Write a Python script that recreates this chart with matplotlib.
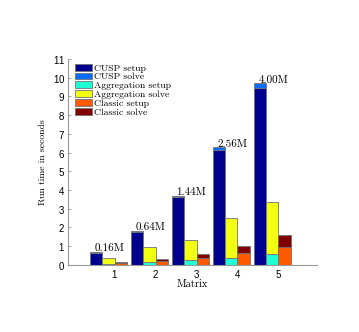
import numpy as np
import matplotlib
matplotlib.use('Agg')
import matplotlib.pyplot as plt

plt.rcParams['axes.formatter.use_mathtext'] = True

matrices = [1, 2, 3, 4, 5]
sizes = ['0.16M', '0.64M', '1.44M', '2.56M', '4.00M']

# run times in seconds
cusp_setup = [0.63, 1.73, 3.62, 6.12, 9.44]
cusp_solve = [0.05, 0.07, 0.07, 0.16, 0.26]
agg_setup = [0.05, 0.16, 0.23, 0.38, 0.58]
agg_solve = [0.32, 0.77, 1.09, 2.09, 2.75]
classic_setup = [0.09, 0.21, 0.37, 0.63, 0.95]
classic_solve = [0.05, 0.08, 0.22, 0.36, 0.63]

colors = ['#00008f', '#0a6cff', '#1effd6', '#f2ff12', '#ff5a00', '#800000']
labels = ['CUSP setup', 'CUSP solve', 'Aggregation setup',
          'Aggregation solve', 'Classic setup', 'Classic solve']

serif = 'cmr10'
x = np.array(matrices, dtype=float)
w = 0.3
edge = dict(edgecolor='0.45', linewidth=0.6)

fig = plt.figure(figsize=(3.59, 3.32), dpi=100)
ax = fig.add_axes([0.189, 0.203, 0.694, 0.619])

ax.bar(x - 0.45, cusp_setup, w, color=colors[0], label=labels[0], **edge)
ax.bar(x - 0.45, cusp_solve, w, bottom=cusp_setup, color=colors[1], label=labels[1], **edge)
ax.bar(x - 0.15, agg_setup, w, color=colors[2], label=labels[2], **edge)
ax.bar(x - 0.15, agg_solve, w, bottom=agg_setup, color=colors[3], label=labels[3], **edge)
ax.bar(x + 0.15, classic_setup, w, color=colors[4], label=labels[4], **edge)
ax.bar(x + 0.15, classic_solve, w, bottom=classic_setup, color=colors[5], label=labels[5], **edge)

totals = np.array(cusp_setup) + np.array(cusp_solve)
for xi, t, s in zip(x, totals, sizes):
    ax.text(xi - 0.13, t - 0.08, s, ha='center', va='bottom', family=serif, fontsize=8)

ax.set_xlim(-0.14, 5.94)
ax.set_ylim(0, 11)
ax.set_xticks(matrices)
ax.set_yticks(range(12))
ax.tick_params(direction='in', length=2, width=0.5, color='0.5', labelsize=7, pad=2)
ax.tick_params(axis='x', length=0, pad=2.5)
for lab in ax.get_xticklabels() + ax.get_yticklabels():
    lab.set_family('Liberation Sans')
for side in ['top', 'right']:
    ax.spines[side].set_visible(False)
for side in ['left', 'bottom']:
    ax.spines[side].set_color('0.6')
    ax.spines[side].set_linewidth(0.8)

ax.set_xlabel('Matrix', family=serif, fontsize=7.5, labelpad=-0.5)
ax.set_ylabel('Run time in seconds', family=serif, fontsize=7, labelpad=4)

leg = ax.legend(loc='upper left', bbox_to_anchor=(0.0, 1.01), frameon=False,
                prop={'family': serif, 'size': 7}, labelspacing=0.0,
                handlelength=1.8, handleheight=0.7, handletextpad=0.2,
                borderaxespad=0.3)

fig.savefig('out.png', dpi=100)
